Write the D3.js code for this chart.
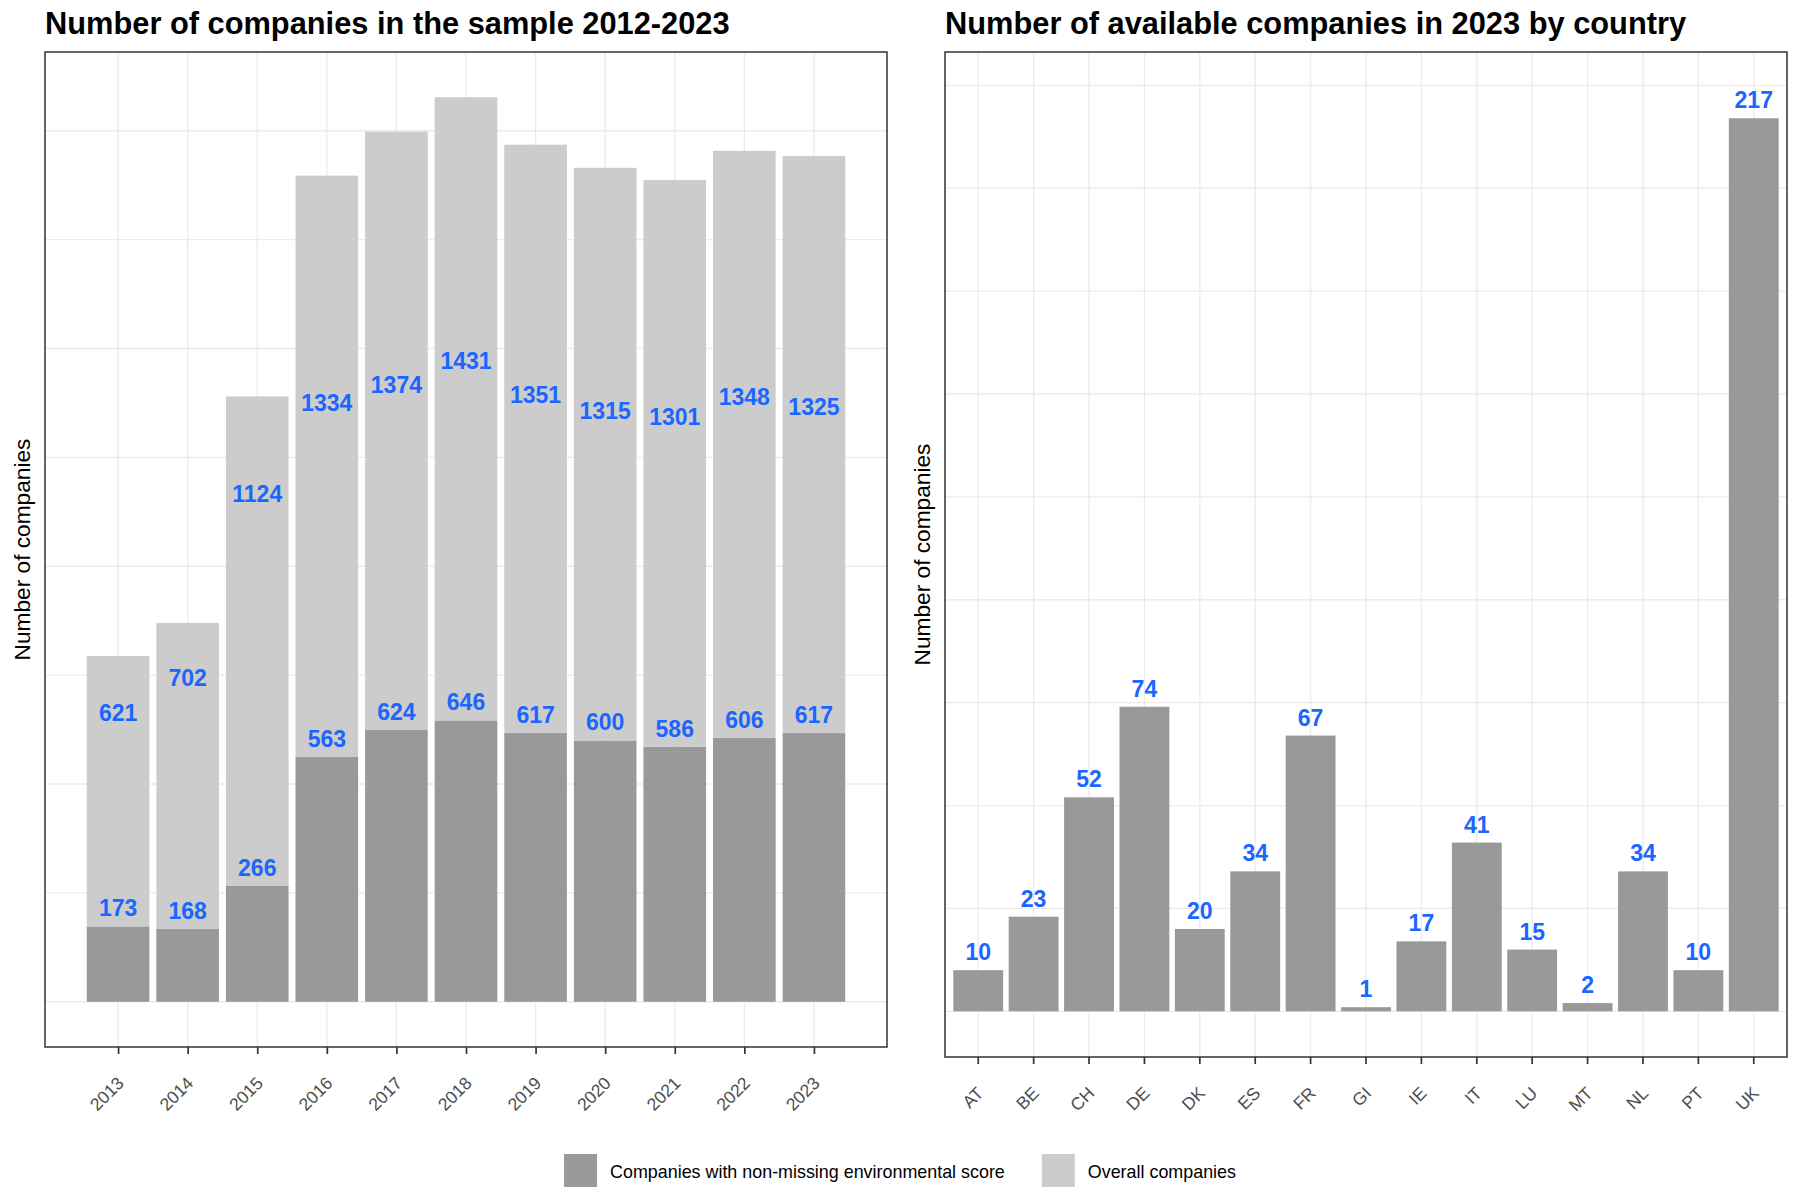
<!DOCTYPE html>
<html>
<head>
<meta charset="utf-8">
<script src="https://cdn.jsdelivr.net/npm/d3@7"></script>
<style>
  body { margin: 0; background: #fff; }
  svg text { font-family: "Liberation Sans", Arial, sans-serif; }
</style>
</head>
<body>
<svg id="chart" width="1800" height="1200"></svg>
<script>
// Data ---------------------------------------------------------------
const years = [2013, 2014, 2015, 2016, 2017, 2018, 2019, 2020, 2021, 2022, 2023];
const nonMissing = [173, 168, 266, 563, 624, 646, 617, 600, 586, 606, 617];
const overall = [621, 702, 1124, 1334, 1374, 1431, 1351, 1315, 1301, 1348, 1325];

const countries = ["AT", "BE", "CH", "DE", "DK", "ES", "FR", "GI", "IE", "IT", "LU", "MT", "NL", "PT", "UK"];
const countryCounts = [10, 23, 52, 74, 20, 34, 67, 1, 17, 41, 15, 2, 34, 10, 217];

const legendLabels = ["Companies with non-missing environmental score", "Overall companies"];
// ------------------------------------------------------------

const darkGrey = "#999999";
const lightGrey = "#cccccc";
const labelBlue = "#1a66ff";
const gridColor = "#ebebeb";
const borderColor = "#333333";

const svg = d3.select("#chart");

// Panel boxes
const left = { x0: 45, x1: 887, y0: 52, y1: 1047 };
const right = { x0: 945, x1: 1787, y0: 52, y1: 1057 };

// Scales for left panel (stacked, continuous years)
const stackMax = d3.max(years, (d, i) => nonMissing[i] + overall[i]);
const xYear = d3.scaleLinear()
    .domain([years[0] - 1.05, years[years.length - 1] + 1.05])
    .range([left.x0, left.x1]);
const yLeft = d3.scaleLinear()
    .domain([-0.05 * stackMax, 1.05 * stackMax])
    .range([left.y1, left.y0]);
const barW = xYear(0.9) - xYear(0);

// Scales for right panel
const countMax = d3.max(countryCounts) + 5; // label position is part of the range
const xCountry = d3.scaleBand()
    .domain(countries)
    .range([right.x0, right.x1])
    .paddingInner(0.1)
    .paddingOuter(0.15);
const yRight = d3.scaleLinear()
    .domain([-0.05 * countMax, 1.05 * countMax])
    .range([right.y1, right.y0]);

// Gridlines
function drawGrid(g, box, xs, ys) {
    g.selectAll(".hgrid").data(ys).join("line")
        .attr("x1", box.x0).attr("x2", box.x1)
        .attr("y1", d => d).attr("y2", d => d)
        .attr("stroke", gridColor).attr("stroke-width", 1.3);
    g.selectAll(".vgrid").data(xs).join("line")
        .attr("x1", d => d).attr("x2", d => d)
        .attr("y1", box.y0).attr("y2", box.y1)
        .attr("stroke", gridColor).attr("stroke-width", 1.3);
}

const gLeft = svg.append("g");
const gRight = svg.append("g");

drawGrid(gLeft.append("g"), left,
    years.map(d => xYear(d)),
    d3.range(0, yLeft.domain()[1], 250).map(d => yLeft(d)));
drawGrid(gRight.append("g"), right,
    countries.map(d => xCountry(d) + xCountry.bandwidth() / 2),
    d3.range(0, yRight.domain()[1], 25).map(d => yRight(d)));

// Left panel bars: dark bottom, light stacked on top
gLeft.selectAll(".dark").data(years).join("rect")
    .attr("x", d => xYear(d) - barW / 2)
    .attr("width", barW)
    .attr("y", (d, i) => yLeft(nonMissing[i]))
    .attr("height", (d, i) => yLeft(0) - yLeft(nonMissing[i]))
    .attr("fill", darkGrey);

gLeft.selectAll(".light").data(years).join("rect")
    .attr("x", d => xYear(d) - barW / 2)
    .attr("width", barW)
    .attr("y", (d, i) => yLeft(nonMissing[i] + overall[i]))
    .attr("height", (d, i) => yLeft(nonMissing[i]) - yLeft(nonMissing[i] + overall[i]))
    .attr("fill", lightGrey);

// Labels sit at the raw value (not stacked)
function valueLabels(g, data, xf, yf) {
    g.selectAll(null).data(data).join("text")
        .attr("x", d => xf(d))
        .attr("y", d => yf(d) - 10)
        .attr("text-anchor", "middle")
        .attr("font-size", 23)
        .attr("font-weight", "bold")
        .attr("fill", labelBlue)
        .text(d => d.v);
}
valueLabels(gLeft, years.map((d, i) => ({ k: d, v: nonMissing[i] })), d => xYear(d.k), d => yLeft(d.v));
valueLabels(gLeft, years.map((d, i) => ({ k: d, v: overall[i] })), d => xYear(d.k), d => yLeft(d.v));

// Right panel bars
gRight.selectAll(".bar").data(countries).join("rect")
    .attr("x", d => xCountry(d))
    .attr("width", xCountry.bandwidth())
    .attr("y", (d, i) => yRight(countryCounts[i]))
    .attr("height", (d, i) => yRight(0) - yRight(countryCounts[i]))
    .attr("fill", darkGrey);

valueLabels(gRight, countries.map((d, i) => ({ k: d, v: countryCounts[i] })),
    d => xCountry(d.k) + xCountry.bandwidth() / 2, d => yRight(d.v));

// Panel borders
[left, right].forEach(b => {
    svg.append("rect")
        .attr("x", b.x0).attr("y", b.y0)
        .attr("width", b.x1 - b.x0).attr("height", b.y1 - b.y0)
        .attr("fill", "none").attr("stroke", borderColor).attr("stroke-width", 1.5);
});

// X axes with rotated labels
function styleAxis(g) {
    g.select(".domain").remove();
    g.selectAll(".tick line").attr("stroke", borderColor).attr("stroke-width", 1.7);
    g.selectAll(".tick text")
        .attr("x", 0).attr("y", 0).attr("dy", "0.35em")
        .attr("text-anchor", "end")
        .attr("transform", "translate(2,33) rotate(-45)")
        .attr("fill", "#4d4d4d")
        .attr("font-size", 17.5)
        .attr("font-family", "Liberation Sans, Arial, sans-serif");
}

svg.append("g")
    .attr("transform", `translate(0,${left.y1})`)
    .call(d3.axisBottom(xYear).tickValues(years).tickFormat(d3.format("d")).tickSize(7).tickSizeOuter(0))
    .call(styleAxis);

svg.append("g")
    .attr("transform", `translate(0,${right.y1})`)
    .call(d3.axisBottom(xCountry).tickSize(7).tickSizeOuter(0))
    .call(styleAxis);

// Titles
svg.append("text")
    .attr("x", left.x0).attr("y", 34)
    .attr("font-size", 30.8).attr("font-weight", "bold").attr("fill", "#000")
    .text("Number of companies in the sample 2012-2023");
svg.append("text")
    .attr("x", right.x0).attr("y", 34)
    .attr("font-size", 30.8).attr("font-weight", "bold").attr("fill", "#000")
    .text("Number of available companies in 2023 by country");

// Y axis titles
[[left, 29.5], [right, 929.5]].forEach(([b, xPos]) => {
    svg.append("text")
        .attr("transform", `translate(${xPos},${(b.y0 + b.y1) / 2}) rotate(-90)`)
        .attr("text-anchor", "middle")
        .attr("font-size", 22.7).attr("fill", "#000")
        .text("Number of companies");
});

// Legend, centred under both panels
const legend = svg.append("g");
const keySize = 33;
let cursor = 0;
legendLabels.forEach((lab, i) => {
    const item = legend.append("g").attr("transform", `translate(${cursor},0)`);
    item.append("rect")
        .attr("x", 0).attr("y", 0)
        .attr("width", keySize).attr("height", keySize)
        .attr("fill", i === 0 ? darkGrey : lightGrey);
    const t = item.append("text")
        .attr("x", keySize + 13).attr("y", 23.5)
        .attr("font-size", 17.9).attr("fill", "#000")
        .text(lab);
    cursor += keySize + 13 + t.node().getComputedTextLength() + 37;
});
const legendW = cursor - 37;
legend.attr("transform", `translate(${900 - legendW / 2},1154)`);
</script>
</body>
</html>
